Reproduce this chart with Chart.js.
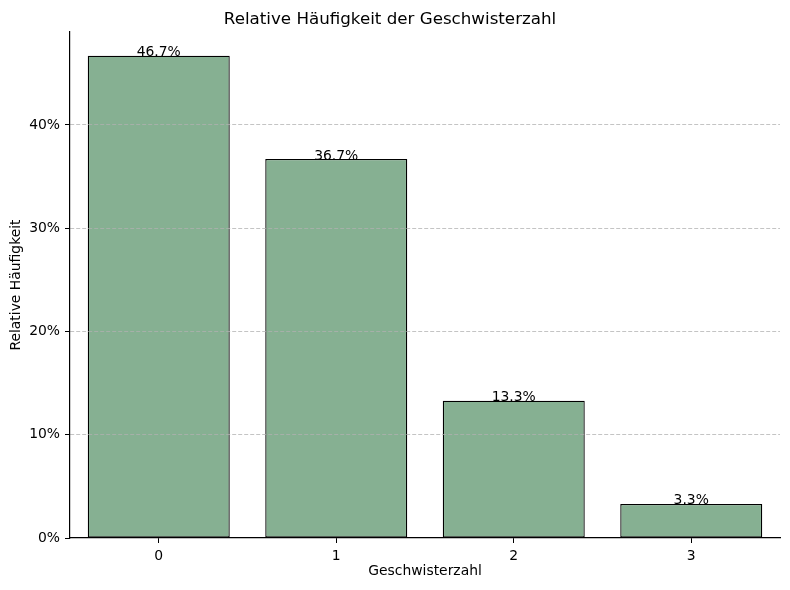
<!DOCTYPE html>
<html>
<head>
<meta charset="utf-8">
<script src="https://cdn.jsdelivr.net/npm/chart.js@4.4.1/dist/chart.umd.min.js"></script>
<style>
    html, body { margin: 0; padding: 0; background: #fff; }
    #wrap { width: 790px; height: 590px; }
</style>
</head>
<body>
<div id="wrap"><canvas id="chart"></canvas></div>
<script>
// Data
const categories = ["0", "1", "2", "3"];
const shares = [46.7, 36.7, 13.3, 3.3];   // relative frequency in %
const yTicks = [0, 10, 20, 30, 40];

const font = "'DejaVu Sans', sans-serif";

// value labels on top of each bar
const barLabels = {
    id: "barLabels",
    afterDraw(chart) {
        const ctx = chart.ctx;
        const meta = chart.getDatasetMeta(0);
        ctx.save();
        ctx.font = "13.9px " + font;
        ctx.fillStyle = "#000";
        ctx.textAlign = "center";
        ctx.textBaseline = "alphabetic";
        meta.data.forEach((bar, i) => {
            ctx.fillText(shares[i].toFixed(1) + "%", bar.x, bar.y + 0.5);
        });
        ctx.restore();
    }
};

new Chart(document.getElementById("chart"), {
    type: "bar",
    data: {
        labels: categories,
        datasets: [{
            data: shares,
            backgroundColor: "#86b092",
            borderColor: "#000",
            borderWidth: 1.3,
            borderSkipped: false,
            barPercentage: 0.8,
            categoryPercentage: 1.0
        }]
    },
    options: {
        responsive: true,
        maintainAspectRatio: false,
        animation: false,
        events: [],
        layout: { padding: { top: 0, right: 10, left: 0, bottom: 0 } },
        plugins: {
            legend: { display: false },
            tooltip: { enabled: false },
            title: {
                display: true,
                text: "Relative Häufigkeit der Geschwisterzahl",
                color: "#000",
                font: { family: font, size: 16.7, weight: "normal", lineHeight: 1.2 },
                padding: { top: 10, bottom: 2 }
            }
        },
        scales: {
            x: {
                afterFit(scale) { scale.height = 52; },
                grid: {
                    display: true,
                    offset: false,
                    drawOnChartArea: false,
                    drawTicks: true,
                    tickLength: 5,
                    tickColor: "#000"
                },
                border: { display: true, color: "#000", width: 1.2, z: 2 },
                ticks: {
                    color: "#000",
                    padding: 5,
                    font: { family: font, size: 13.9 }
                },
                title: {
                    display: true,
                    text: "Geschwisterzahl",
                    color: "#000",
                    font: { family: font, size: 13.9, lineHeight: 1.2 },
                    padding: { top: 0, bottom: 10 }
                }
            },
            y: {
                min: 0,
                max: 49.0,
                afterFit(scale) { scale.width = 70; },
                afterBuildTicks(scale) {
                    scale.ticks = yTicks.map(v => ({ value: v }));
                },
                grid: {
                    z: 1,
                    color: c => (c.tick && c.tick.value === 0) ? "rgba(0,0,0,0)" : "rgba(176,176,176,0.75)",
                    lineWidth: 1,
                    drawTicks: true,
                    tickLength: 5,
                    tickColor: "#000",
                    tickBorderDash: []
                },
                border: { display: true, color: "#000", width: 1.2, z: 2, dash: [4, 2] },
                ticks: {
                    color: "#000",
                    padding: 5,
                    includeBounds: false,
                    font: { family: font, size: 13.9 },
                    callback: v => v + "%"
                },
                title: {
                    display: true,
                    text: "Relative Häufigkeit",
                    color: "#000",
                    font: { family: font, size: 13.9, lineHeight: 1.2 },
                    padding: { top: 8, bottom: 0 }
                }
            }
        }
    },
    plugins: [barLabels]
});
</script>
</body>
</html>
